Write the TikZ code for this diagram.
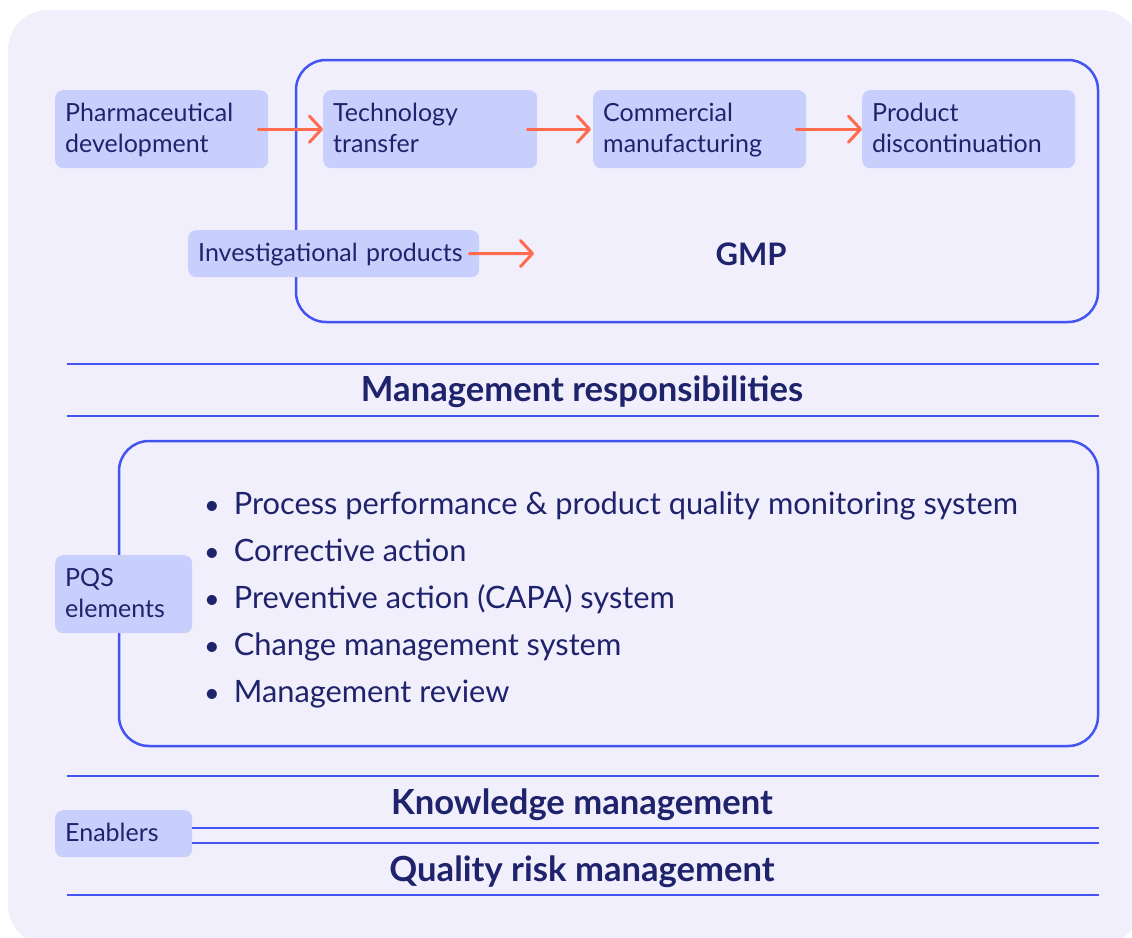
\documentclass[tikz,border=0pt]{standalone}
\usepackage{fontspec}
\setmainfont{Lato}
\usetikzlibrary{arrows.meta}
\definecolor{bgc}{HTML}{F2EFFD}
\definecolor{boxc}{HTML}{C9CFFC}
\definecolor{linec}{HTML}{4354F0}
\definecolor{textc}{HTML}{1E236C}
\definecolor{arrowc}{HTML}{FF6B4F}
\begin{document}
\begin{tikzpicture}[x=1pt,y=-1pt,
  every node/.style={text=textc},
  tag/.style={fill=boxc, rounded corners=8pt, anchor=north west, inner xsep=10pt, inner ysep=0pt,
    align=left, text height=18pt, text depth=2pt, font=\fontsize{25}{31}\selectfont},
  twoline/.style={text depth=33pt, minimum height=78pt},
  oneline/.style={minimum height=47pt},
  frame/.style={draw=linec, line width=2.5pt, rounded corners=30pt},
  rule/.style={draw=linec, line width=2.5pt},
  heading/.style={anchor=base, font=\fontsize{34.6}{40}\selectfont\bfseries},
  flow/.style={draw=arrowc, line width=3pt, line cap=round,
    -{Straight Barb[length=12pt,width=26pt,line cap=round,line join=round]}}]
% canvas
\useasboundingbox (0,0) rectangle (1132,937);
\fill[white] (0,0) rectangle (1132,937);
\fill[bgc, rounded corners=40pt] (8,10) rectangle (1140,945);

% GMP frame
\draw[frame] (296,60) rectangle (1098,322);
\node[heading, font=\fontsize{31}{36}\selectfont\bfseries] (gmp) at (751,265) {GMP};

% lifecycle stages
\node[tag, twoline, text width=193pt] (pharma) at (55,90) {Pharmaceutical\\development};
\node[tag, twoline, text width=194pt] (tech) at (323,90) {Technology\\transfer};
\node[tag, twoline, text width=193pt] (comm) at (593,90) {Commercial\\manufacturing};
\node[tag, twoline, text width=193pt] (prod) at (862,90) {Product\\discontinuation};
\node[tag, oneline, text width=271pt] (invest) at (188,230) {Investigational products};
\coordinate (investend) at (534,253.5);

\draw[flow] ([xshift=-10pt]pharma.east) -- (tech.west);
\draw[flow] ([xshift=-10pt]tech.east) -- ([xshift=-2pt]comm.west);
\draw[flow] ([xshift=-10pt]comm.east) -- (prod.west);
\draw[flow] ([xshift=-10pt]invest.east) -- (investend);

% management responsibilities
\coordinate (mrl1) at (67,364); \coordinate (mrr1) at (1099,364);
\coordinate (mrl2) at (67,416); \coordinate (mrr2) at (1099,416);
\draw[rule] (mrl1) -- (mrr1);
\draw[rule] (mrl2) -- (mrr2);
\node[heading] (mgmt) at (582,401) {Management responsibilities};

% PQS elements
\draw[frame] (119,441) rectangle (1098,746);
\node[tag, twoline, text width=117pt] (pqs) at (55,555) {PQS\\elements};
\node[anchor=north west, inner sep=0pt, font=\fontsize{30.8}{47}\selectfont] (items) at (204,481) {%
  \begin{tabular}{@{}l@{\hspace{14pt}}l@{}}
  {\fontsize{27}{47}\selectfont\textbullet} & Process performance \& product quality monitoring system\\
  {\fontsize{27}{47}\selectfont\textbullet} & Corrective action\\
  {\fontsize{27}{47}\selectfont\textbullet} & Preventive action (CAPA) system\\
  {\fontsize{27}{47}\selectfont\textbullet} & Change management system\\
  {\fontsize{27}{47}\selectfont\textbullet} & Management review
  \end{tabular}};

% enablers
\coordinate (kl) at (67,776); \coordinate (kr) at (1099,776);
\coordinate (ql) at (67,895); \coordinate (qr) at (1099,895);
\draw[rule] (kl) -- (kr);
\draw[rule] (ql) -- (qr);
\node[tag, oneline, text width=117pt] (enab) at (55,810) {Enablers};
\coordinate (e1) at (1099,828);
\coordinate (e2) at (1099,843);
\draw[rule] (enab.east |- e1) -- (e1);
\draw[rule] (enab.east |- e2) -- (e2);
\node[heading] (know) at (582,814) {Knowledge management};
\node[heading] (qrm) at (582,881) {Quality risk management};
\end{tikzpicture}
\end{document}
